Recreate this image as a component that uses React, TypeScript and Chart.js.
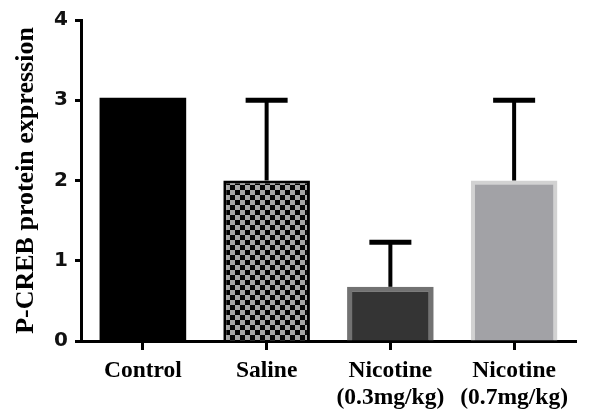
import React, { useEffect, useRef } from "react";
import { Chart, registerables } from "chart.js";

Chart.register(...registerables);

const categories: (string | string[])[] = [
  "Control",
  "Saline",
  ["Nicotine", "(0.3mg/kg)"],
  ["Nicotine", "(0.7mg/kg)"],
];
const values = [3.03, 2.0, 0.675, 2.0];
const errors = [0, 1.0, 0.555, 1.0];
const yTicks = [0, 1, 2, 3, 4];

function makeChecker(): CanvasPattern | string {
  const c = document.createElement("canvas");
  const s = 5;
  c.width = s * 2;
  c.height = s * 2;
  const g = c.getContext("2d");
  if (!g) return "#555";
  g.fillStyle = "#050505";
  g.fillRect(0, 0, s * 2, s * 2);
  g.fillStyle = "#a6a6a6";
  g.fillRect(0, 0, s, s);
  g.fillRect(s, s, s, s);
  const p = g.createPattern(c, "repeat");
  return p || "#555";
}

const errorBarPlugin = {
  id: "errorBars",
  afterDatasetsDraw(chart: any) {
    const ctx = chart.ctx;
    const meta = chart.getDatasetMeta(0);
    const yScale = chart.scales.y;
    ctx.save();
    ctx.strokeStyle = "#000";
    meta.data.forEach((el: any, i: number) => {
      const err = errors[i];
      if (!err) return;
      const x = el.x;
      const yBar = el.y;
      const yTop = yScale.getPixelForValue(values[i] + err);
      ctx.lineWidth = 4;
      ctx.beginPath();
      ctx.moveTo(x, yBar);
      ctx.lineTo(x, yTop);
      ctx.stroke();
      ctx.lineWidth = 5;
      ctx.beginPath();
      ctx.moveTo(x - 21, yTop);
      ctx.lineTo(x + 21, yTop);
      ctx.stroke();
    });
    ctx.restore();
  },
};

export default function App() {
  const ref = useRef<HTMLCanvasElement | null>(null);
  useEffect(() => {
    if (!ref.current) return;
    const checker = makeChecker();
    const chart = new Chart(ref.current, {
      type: "bar",
      data: {
        labels: categories,
        datasets: [
          {
            data: values,
            backgroundColor: ["#000000", checker, "#343434", "#a2a2a6"],
            borderColor: ["#000000", "#000000", "#727272", "#d2d2d2"],
            borderWidth: [0, 3, 5, 4],
            borderSkipped: "bottom",
            categoryPercentage: 1,
            barPercentage: 0.7,
          } as any,
        ],
      },
      options: {
        responsive: false,
        animation: false,
        layout: { padding: { left: 0, right: 14, top: 20, bottom: 0 } },
        plugins: {
          legend: { display: false },
          tooltip: { enabled: false },
        },
        scales: {
          x: {
            grid: {
              display: true,
              drawOnChartArea: false,
              drawTicks: true,
              tickLength: 9,
              tickWidth: 3,
              tickColor: "#000",
              offset: false,
            },
            border: { display: true, color: "#000", width: 3 },
            ticks: {
              color: "#000",
              padding: 7,
              maxRotation: 0,
              font: { family: "'Liberation Serif', serif", size: 23.5, weight: "bold", lineHeight: 1.15 },
            },
            afterFit(scale: any) {
              scale.height = 78;
            },
          },
          y: {
            min: 0,
            max: 4,
            afterBuildTicks(scale: any) {
              scale.ticks = yTicks.map((v) => ({ value: v }));
            },
            grid: {
              display: true,
              drawOnChartArea: false,
              drawTicks: true,
              tickLength: 6,
              tickWidth: 3,
              tickColor: "#000",
            },
            border: { display: true, color: "#000", width: 3 },
            ticks: {
              color: "#111",
              padding: 7,
              font: { family: "'DejaVu Sans', sans-serif", size: 20, weight: "bold" },
            },
            title: {
              display: true,
              text: "P-CREB protein expression",
              color: "#000",
              padding: { top: 11, bottom: 0 },
              font: { family: "'Liberation Serif', serif", size: 26, weight: "bold", lineHeight: 1.2 },
            },
            afterFit(scale: any) {
              scale.width = 81;
            },
          },
        },
      },
      plugins: [errorBarPlugin],
    });
    return () => chart.destroy();
  }, []);
  return (
    <div style={{ position: "fixed", left: 0, top: 0, width: 590, height: 419, background: "#fff" }}>
      <canvas ref={ref} width={590} height={419} style={{ width: 590, height: 419 }} />
    </div>
  );
}
